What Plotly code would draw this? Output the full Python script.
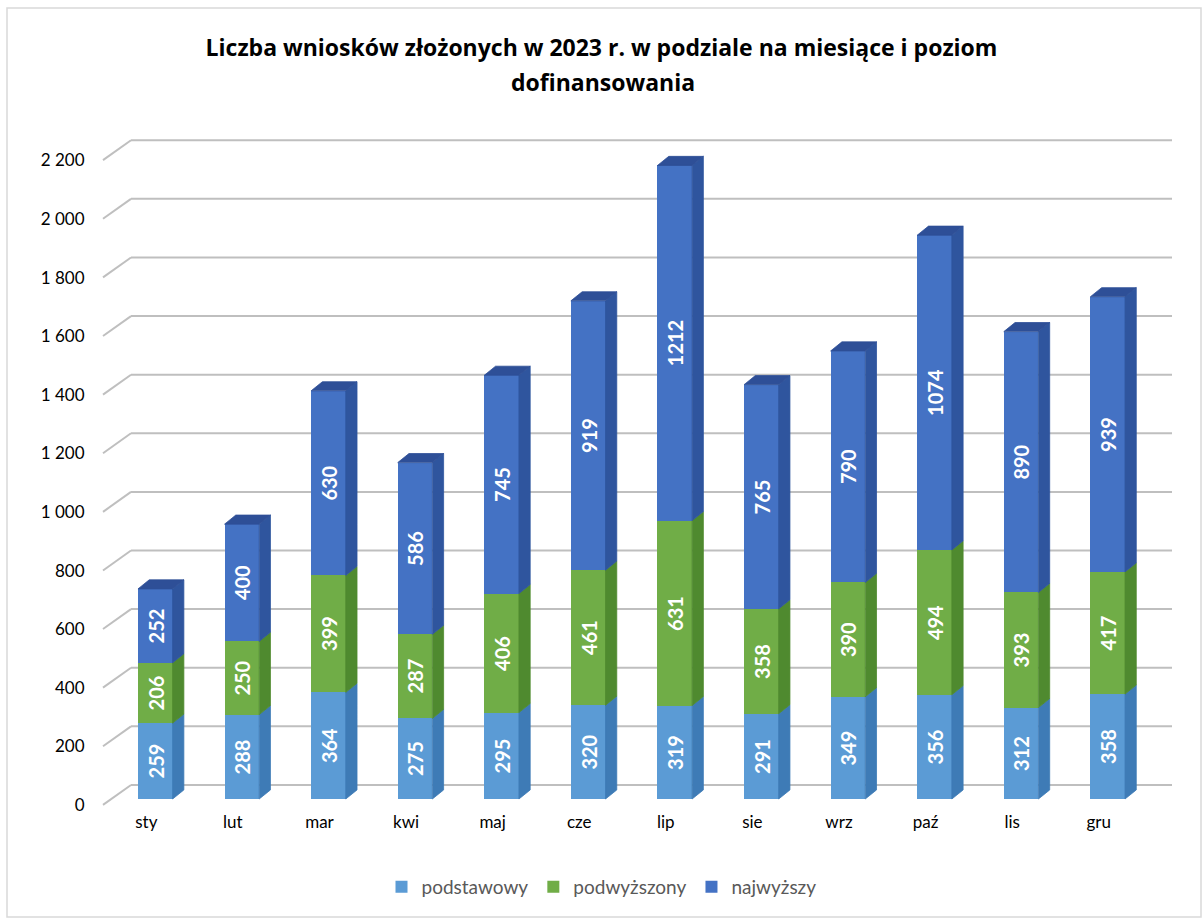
import plotly.graph_objs as go

months = ['sty', 'lut', 'mar', 'kwi', 'maj', 'cze', 'lip', 'sie', 'wrz', 'paź', 'lis', 'gru']
podstawowy = [259, 288, 364, 275, 295, 320, 319, 291, 349, 356, 312, 358]
podwyzszony = [206, 250, 399, 287, 406, 461, 631, 358, 390, 494, 393, 417]
najwyzszy = [252, 400, 630, 586, 745, 919, 1212, 765, 790, 1074, 890, 939]
series_names = ['podstawowy', 'podwyższony', 'najwyższy']
tick_vals = [0, 200, 400, 600, 800, 1000, 1200, 1400, 1600, 1800, 2000, 2200]
tick_text = ['0', '200', '400', '600', '800', '1 000', '1 200', '1 400', '1 600', '1 800', '2 000', '2 200']

FONT = 'Lato'
front_cols = ['#5B9BD5', '#70AD47', '#4472C4']
side_cols = ['#3E7BB6', '#4F8A2F', '#2F559E']
cap_col = '#2E4F97'

# 3d look: bar width, depth in x units and y units
w = 0.40
dx = 0.13
dy = 31

x = list(range(len(months)))
series = [podstawowy, podwyzszony, najwyzszy]

fig = go.Figure()

# front faces
base = [0] * len(months)
bases = []
for name, vals, col in zip(series_names, series, front_cols):
    bases.append(list(base))
    fig.add_trace(go.Bar(x=x, y=vals, name=name, width=w,
                         marker=dict(color=col, line=dict(width=0)),
                         text=[str(v) for v in vals], textposition='inside',
                         insidetextanchor='middle', textangle=-90,
                         constraintext='none',
                         textfont=dict(family=FONT, size=20, color='white', weight='bold')))
    base = [b + v for b, v in zip(base, vals)]

# side faces
for i, vals in enumerate(series):
    px_, py_ = [], []
    for c, b, v in zip(x, bases[i], vals):
        xr = c + w / 2
        px_ += [xr, xr + dx, xr + dx, xr, xr, None]
        py_ += [b, b + dy, b + v + dy, b + v, b, None]
    fig.add_trace(go.Scatter(x=px_, y=py_, mode='lines', fill='toself',
                             fillcolor=side_cols[i], line=dict(width=0.8, color=side_cols[i]),
                             hoverinfo='skip', showlegend=False))

# top caps
cx, cy = [], []
for c, t in zip(x, base):
    cx += [c - w / 2, c - w / 2 + dx, c + w / 2 + dx, c + w / 2, c - w / 2, None]
    cy += [t, t + dy, t + dy, t, t, None]
fig.add_trace(go.Scatter(x=cx, y=cy, mode='lines', fill='toself', fillcolor=cap_col,
                         line=dict(width=0.8, color=cap_col), hoverinfo='skip', showlegend=False))

# back wall gridlines with diagonal stubs
ymin, ymax = -37.5, 2283
L, R = 112, 52
pw = 1203 - L - R
def xp(p):
    return (p - L) / pw
shapes = []
for v in tick_vals:
    shapes.append(dict(type='line', xref='paper', yref='y', x0=xp(103), x1=xp(131),
                       y0=v - 20, y1=v + 48, line=dict(color='#BFBFBF', width=2), layer='below'))
    shapes.append(dict(type='line', xref='paper', yref='y', x0=xp(131), x1=xp(1172),
                       y0=v + 48, y1=v + 48, line=dict(color='#BFBFBF', width=2), layer='below'))
# chart border
shapes.append(dict(type='rect', xref='paper', yref='paper', x0=xp(7), x1=xp(1201),
                   y0=(810 - 917) / 680, y1=(810 - 8) / 680,
                   line=dict(color='#D9D9D9', width=1.5), layer='below'))

lab_shift = 9 / 86.6  # month labels sit a bit left of the bar fronts

fig.update_layout(
    width=1203, height=919,
    margin=dict(l=L, r=R, t=130, b=109),
    paper_bgcolor='white', plot_bgcolor='rgba(0,0,0,0)',
    barmode='stack', bargap=0,
    font=dict(family=FONT, size=17, color='#000000'),
    title=dict(text='<b>Liczba wniosków złożonych w 2023 r. w podziale na miesiące i poziom</b>',
               x=0.5, xref='container', xanchor='center', y=1 - 48 / 919, yref='container',
               yanchor='middle', font=dict(family='Open Sans', size=23, color='#000000')),
    annotations=[dict(text='<b>dofinansowania</b>', x=(603 - L) / pw, xref='paper', xanchor='center',
                      y=(810 - 82) / 680, yref='paper', yanchor='middle', showarrow=False,
                      font=dict(family='Open Sans', size=23, color='#000000'))],
    legend=dict(orientation='h', x=0.5, xanchor='center', xref='container',
                y=1 - 887 / 919, yref='container', yanchor='middle',
                font=dict(family=FONT, size=19, color='#595959'),
                traceorder='normal', itemwidth=30),
    shapes=shapes,
    xaxis=dict(range=[-0.5, 11.5], showgrid=False, zeroline=False, showline=False,
               showticklabels=False),
    xaxis2=dict(range=[-0.5 + lab_shift, 11.5 + lab_shift], overlaying='x', side='bottom',
                tickvals=x, ticktext=months, showgrid=False, zeroline=False, showline=False,
                ticks='', tickfont=dict(family=FONT, size=17, color='#000000')),
    yaxis=dict(range=[ymin, ymax], showgrid=False, zeroline=False, showticklabels=False),
    yaxis2=dict(range=[ymin + 20.5, ymax + 20.5], overlaying='y', side='left',
                tickvals=tick_vals, ticktext=tick_text, showgrid=False, zeroline=False,
                ticks='outside', ticklen=23, tickcolor='rgba(0,0,0,0)',
                tickfont=dict(family=FONT, size=17, color='#000000')),
)
# dummy trace so the label axes are drawn
fig.add_trace(go.Scatter(x=[None], y=[None], xaxis='x2', yaxis='y2', showlegend=False, hoverinfo='skip'))

fig.write_html('out.html', config={'displayModeBar': False},
               post_script="document.body.style.margin='0';")
